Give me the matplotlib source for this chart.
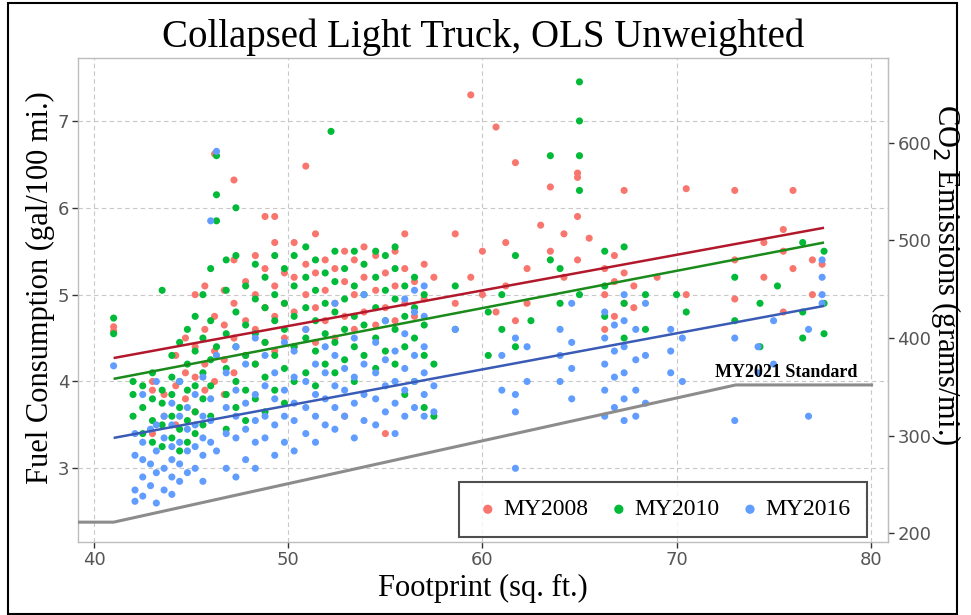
import matplotlib
matplotlib.use("Agg")
import matplotlib.pyplot as plt
from matplotlib.patches import Rectangle

# ---- data: footprint (sq. ft.) and fuel consumption (gal/100 mi.) ----
pts_2008 = [
    (41.0, 4.63), (41.0, 4.58),
    (43.0, 3.4), (43.0, 3.9), (43.0, 4.0), (43.6, 3.6), (43.6, 3.85),
    (44.2, 3.5), (44.2, 3.95), (44.2, 4.3), (44.7, 3.8), (44.7, 4.1), (44.7, 4.5),
    (45.2, 3.65), (45.2, 4.05), (45.2, 4.4), (45.2, 5.0), (45.7, 3.9), (45.7, 4.2),
    (45.7, 4.6), (45.7, 5.1), (46.2, 4.0), (46.2, 4.35), (46.2, 4.75), (46.2, 6.62),
    (46.7, 3.85), (46.7, 4.25), (46.7, 4.65), (46.7, 5.05), (47.2, 4.1), (47.2, 4.5),
    (47.2, 4.9), (47.2, 5.4), (47.2, 6.32), (47.8, 4.3), (47.8, 4.7), (47.8, 5.15),
    (48.3, 4.2), (48.3, 4.6), (48.3, 5.0), (48.3, 5.45), (48.8, 4.45), (48.8, 4.85),
    (48.8, 5.3), (48.8, 5.9), (49.3, 4.35), (49.3, 4.75), (49.3, 5.1), (49.3, 5.6),
    (49.3, 5.9), (49.8, 4.5), (49.8, 4.9), (49.8, 5.25), (50.3, 4.4), (50.3, 4.8),
    (50.3, 5.2), (50.3, 5.6), (50.9, 4.6), (50.9, 5.0), (50.9, 5.35), (50.9, 6.48),
    (51.4, 4.45), (51.4, 4.85), (51.4, 5.25), (51.4, 5.7), (51.9, 4.7), (51.9, 5.05),
    (51.9, 5.4), (52.4, 4.5), (52.4, 4.9), (52.4, 5.3), (52.9, 3.6), (52.9, 4.75),
    (52.9, 5.15), (52.9, 5.5), (53.4, 4.6), (53.4, 5.0), (53.4, 5.4), (53.9, 4.8),
    (53.9, 5.2), (53.9, 5.55), (54.5, 4.65), (54.5, 5.05), (54.5, 5.45), (55.0, 3.4),
    (55.0, 4.85), (55.0, 5.25), (55.5, 4.7), (55.5, 5.1), (55.5, 5.5), (56.0, 4.9),
    (56.0, 5.3), (56.0, 5.7), (56.5, 4.75), (56.5, 5.15), (57.0, 4.95), (57.0, 5.35),
    (57.5, 5.2), (58.6, 4.9), (58.6, 5.7), (59.4, 7.3), (59.4, 5.2), (60.0, 5.0),
    (60.0, 5.5), (60.7, 6.93), (60.7, 4.8), (61.2, 5.1), (61.2, 5.6), (61.7, 6.52),
    (61.7, 4.7), (62.3, 4.9), (62.3, 5.3), (63.0, 5.8), (63.5, 6.24), (63.5, 5.5),
    (64.2, 5.7), (64.2, 5.2), (64.9, 6.4), (64.9, 6.35), (64.9, 5.9), (64.9, 5.4),
    (65.5, 5.65), (66.3, 4.6), (66.3, 5.0), (66.3, 5.3), (66.8, 4.75), (66.8, 5.15),
    (66.8, 5.45), (67.3, 6.2), (67.3, 4.9), (67.3, 5.25), (67.8, 4.85), (67.8, 5.1),
    (69.0, 5.2), (70.5, 6.22), (70.5, 5.0), (73.0, 6.2), (73.0, 4.95), (73.0, 5.4),
    (74.5, 5.2), (74.5, 5.6), (75.5, 5.5), (75.5, 4.8), (75.5, 5.75), (76.0, 6.2),
    (76.0, 5.3), (77.0, 5.4), (77.0, 5.0), (77.5, 5.35),
]

pts_2010 = [
    (41.0, 4.73), (41.0, 4.55),
    (42.0, 3.6), (42.0, 3.85), (42.0, 4.0), (42.5, 3.4), (42.5, 3.7), (42.5, 3.95),
    (43.0, 3.3), (43.0, 3.55), (43.0, 3.8), (43.0, 4.1), (43.5, 3.25), (43.5, 3.5),
    (43.5, 3.75), (43.5, 3.9), (43.5, 5.05), (44.0, 3.35), (44.0, 3.6), (44.0, 3.85),
    (44.0, 4.05), (44.0, 4.3), (44.4, 3.2), (44.4, 3.45), (44.4, 3.7), (44.4, 4.0),
    (44.4, 4.45), (44.8, 3.3), (44.8, 3.55), (44.8, 3.9), (44.8, 4.2), (44.8, 4.6),
    (45.2, 3.4), (45.2, 3.65), (45.2, 3.95), (45.2, 4.35), (45.2, 4.75), (45.6, 3.5),
    (45.6, 3.8), (45.6, 4.1), (45.6, 4.5), (45.6, 5.0), (46.0, 3.6), (46.0, 3.95),
    (46.0, 4.25), (46.0, 4.7), (46.0, 5.3), (46.3, 6.6), (46.3, 6.15), (46.3, 5.85),
    (46.3, 4.4), (46.8, 3.45), (46.8, 3.85), (46.8, 4.15), (46.8, 4.55), (46.8, 5.05),
    (46.8, 5.4), (47.3, 3.7), (47.3, 4.0), (47.3, 4.4), (47.3, 4.8), (47.3, 5.45),
    (47.3, 6.0), (47.8, 3.55), (47.8, 3.9), (47.8, 4.3), (47.8, 4.65), (47.8, 5.1),
    (48.3, 3.8), (48.3, 4.2), (48.3, 4.55), (48.3, 4.95), (48.3, 5.35), (48.8, 3.65),
    (48.8, 4.05), (48.8, 4.45), (48.8, 4.85), (48.8, 5.2), (49.3, 3.9), (49.3, 4.3),
    (49.3, 4.7), (49.3, 5.0), (49.3, 5.45), (49.8, 3.75), (49.8, 4.15), (49.8, 4.6),
    (49.8, 4.9), (49.8, 5.3), (50.3, 4.0), (50.3, 4.4), (50.3, 4.75), (50.3, 5.1),
    (50.3, 5.45), (50.9, 4.1), (50.9, 4.5), (50.9, 4.85), (50.9, 5.2), (50.9, 5.55),
    (51.4, 3.95), (51.4, 4.35), (51.4, 4.7), (51.4, 5.05), (51.4, 5.4), (51.9, 4.2),
    (51.9, 4.55), (51.9, 4.9), (51.9, 5.25), (52.2, 6.88), (52.4, 4.1), (52.4, 4.45),
    (52.4, 4.8), (52.4, 5.15), (52.4, 5.5), (52.9, 4.25), (52.9, 4.6), (52.9, 4.95),
    (52.9, 5.3), (53.4, 4.0), (53.4, 4.4), (53.4, 4.75), (53.4, 5.1), (53.4, 5.5),
    (53.9, 4.3), (53.9, 4.65), (53.9, 5.0), (53.9, 5.35), (54.5, 4.15), (54.5, 4.5),
    (54.5, 4.85), (54.5, 5.2), (54.5, 5.5), (55.0, 4.35), (55.0, 4.7), (55.0, 5.05),
    (55.0, 5.45), (55.5, 4.2), (55.5, 4.6), (55.5, 4.95), (55.5, 5.3), (55.5, 5.55),
    (56.0, 3.85), (56.0, 4.4), (56.0, 4.75), (56.0, 5.1), (56.5, 4.0), (56.5, 4.5),
    (56.5, 4.85), (56.5, 5.2), (57.0, 3.7), (57.0, 4.3), (57.0, 4.65), (57.0, 5.0),
    (57.5, 3.6), (57.5, 4.2), (58.6, 4.6), (58.6, 5.1), (60.3, 4.3), (60.3, 4.8),
    (61.0, 4.6), (61.0, 5.0), (61.7, 5.45), (61.7, 4.4), (62.5, 4.7), (63.5, 5.4),
    (63.5, 6.6), (64.0, 4.9), (64.0, 5.3), (65.0, 7.45), (65.0, 7.0), (65.0, 6.6),
    (65.0, 6.2), (65.0, 5.0), (66.3, 4.75), (66.3, 5.1), (66.3, 5.5), (67.3, 4.5),
    (67.3, 4.9), (67.3, 5.55), (68.4, 4.6), (68.4, 5.0), (70.0, 5.0), (70.5, 4.8),
    (73.0, 4.7), (73.0, 5.2), (74.3, 4.4), (74.3, 4.9), (75.2, 5.1), (76.5, 4.5),
    (76.5, 4.8), (76.5, 5.6), (77.6, 4.55), (77.6, 4.9), (77.6, 5.5),
]

pts_2016 = [
    (41.0, 4.18),
    (42.1, 2.62), (42.1, 2.75), (42.1, 3.15), (42.1, 3.4), (42.5, 2.68), (42.5, 2.9),
    (42.5, 3.1), (42.5, 3.3), (42.5, 3.85), (42.9, 2.8), (42.9, 3.05), (42.9, 3.45),
    (43.2, 2.6), (43.2, 2.95), (43.2, 3.2), (43.2, 3.5), (43.2, 4.0), (43.6, 2.75),
    (43.6, 3.0), (43.6, 3.35), (43.6, 3.6), (44.0, 2.7), (44.0, 2.9), (44.0, 3.1),
    (44.0, 3.25), (44.0, 3.5), (44.0, 3.75), (44.4, 2.85), (44.4, 3.05), (44.4, 3.3),
    (44.4, 3.6), (44.4, 4.0), (44.8, 2.95), (44.8, 3.2), (44.8, 3.45), (44.8, 3.7),
    (45.2, 3.0), (45.2, 3.25), (45.2, 3.5), (45.2, 3.85), (45.6, 2.85), (45.6, 3.15),
    (45.6, 3.35), (45.6, 3.6), (45.6, 4.05), (46.0, 3.3), (46.0, 3.55), (46.0, 3.8),
    (46.0, 5.85), (46.3, 6.65), (46.3, 3.2), (46.3, 4.3), (46.8, 3.0), (46.8, 3.4),
    (46.8, 3.7), (46.8, 4.1), (47.3, 2.9), (47.3, 3.35), (47.3, 3.6), (47.3, 3.9),
    (47.3, 4.4), (47.8, 3.1), (47.8, 3.45), (47.8, 3.75), (47.8, 4.2), (48.3, 3.0),
    (48.3, 3.3), (48.3, 3.55), (48.3, 3.85), (48.3, 4.5), (48.8, 3.35), (48.8, 3.6),
    (48.8, 3.95), (48.8, 4.3), (49.3, 3.15), (49.3, 3.5), (49.3, 3.8), (49.3, 4.1),
    (49.8, 3.3), (49.8, 3.6), (49.8, 3.9), (49.8, 4.45), (50.3, 3.2), (50.3, 3.55),
    (50.3, 3.75), (50.3, 4.05), (50.3, 4.35), (50.9, 3.4), (50.9, 3.7), (50.9, 4.0),
    (50.9, 4.6), (51.4, 3.3), (51.4, 3.6), (51.4, 3.85), (51.4, 4.2), (51.9, 3.5),
    (51.9, 3.8), (51.9, 4.1), (51.9, 4.4), (52.4, 3.45), (52.4, 3.7), (52.4, 3.95),
    (52.4, 4.3), (52.4, 4.9), (52.9, 3.6), (52.9, 3.9), (52.9, 4.15), (53.4, 3.35),
    (53.4, 3.75), (53.4, 4.05), (53.4, 4.5), (53.9, 3.55), (53.9, 3.85), (53.9, 4.2),
    (53.9, 5.0), (54.5, 3.5), (54.5, 3.8), (54.5, 4.1), (54.5, 4.45), (55.0, 3.65),
    (55.0, 3.95), (55.0, 4.25), (55.0, 4.7), (55.5, 3.4), (55.5, 3.75), (55.5, 4.0),
    (55.5, 4.35), (56.0, 3.6), (56.0, 3.9), (56.0, 4.15), (56.0, 4.55), (56.0, 4.95),
    (56.5, 3.7), (56.5, 4.0), (56.5, 4.3), (56.5, 4.8), (56.5, 5.05), (57.0, 3.6),
    (57.0, 3.85), (57.0, 4.1), (57.0, 4.4), (57.0, 4.75), (57.0, 5.1), (57.5, 3.65),
    (57.5, 3.95), (58.6, 4.6), (61.0, 3.9), (61.0, 4.3), (61.7, 3.0), (61.7, 3.65),
    (61.7, 3.85), (61.7, 4.5), (62.3, 4.0), (62.3, 4.4), (64.0, 4.0), (64.0, 4.3),
    (64.0, 4.6), (64.6, 3.8), (64.6, 4.15), (64.6, 4.45), (64.6, 4.9), (66.3, 3.6),
    (66.3, 3.9), (66.3, 4.2), (66.3, 4.5), (66.3, 4.8), (66.8, 3.7), (66.8, 4.05),
    (66.8, 4.35), (66.8, 4.65), (67.3, 3.55), (67.3, 3.8), (67.3, 4.1), (67.3, 4.4),
    (67.3, 4.7), (67.3, 5.0), (67.9, 3.6), (67.9, 3.9), (67.9, 4.25), (67.9, 4.6),
    (68.4, 3.75), (68.4, 4.3), (68.4, 4.9), (69.7, 4.1), (69.7, 4.35), (69.7, 4.6),
    (70.3, 4.0), (70.3, 4.5), (73.0, 3.55), (73.0, 4.5), (74.2, 4.1), (74.2, 4.4),
    (75.0, 4.2), (75.0, 4.7), (76.8, 3.6), (76.8, 4.6), (77.5, 5.0), (77.5, 5.2),
    (77.5, 5.4), (77.5, 4.9),
]

series_names = ["MY2008", "MY2010", "MY2016"]
series_points = [pts_2008, pts_2010, pts_2016]
series_colors = ["#F8766D", "#00BA38", "#619CFF"]

# OLS fit lines (endpoints over the fitted footprint range)
fit_x = [41.0, 77.6]
fit_2008 = [4.27, 5.77]
fit_2010 = [4.03, 5.60]
fit_2016 = [3.35, 4.87]
fit_colors = ["#B2182B", "#1A8A1A", "#3A5BB5"]

# MY2021 target curve
std_x = [39.18, 41.0, 73.05, 80.05]
std_y = [2.38, 2.38, 3.96, 3.96]

CO2_PER_GAL = 88.87  # grams CO2 per (gal/100 mi.) -> grams/mi.

# ---- figure ----
W, H = 971, 615
fig = plt.figure(figsize=(W / 100, H / 100), dpi=100)
ax = fig.add_axes([78.3 / W, 1 - 542.3 / H, (888.3 - 78.3) / W, (542.3 - 58.0) / H])

serif = ["Liberation Serif", "DejaVu Serif"]
tick_font = "DejaVu Sans"

for name, pts, col in zip(series_names, series_points, series_colors):
    xs = [p[0] for p in pts]
    ys = [p[1] for p in pts]
    ax.scatter(xs, ys, s=26, color=col, edgecolors="none", label=name, zorder=3)

for fy, col in zip([fit_2008, fit_2010, fit_2016], fit_colors):
    ax.plot(fit_x, fy, color=col, lw=1.8, zorder=4, solid_capstyle="butt")

ax.plot(std_x, std_y, color="#8C8C8C", lw=2.2, zorder=4)
ax.text(79.3, 4.01, "MY2021 Standard", family=serif, fontweight="bold",
        fontsize=13, ha="right", va="bottom", zorder=5)

ax.set_xlim(39.18, 80.91)
ax.set_ylim(2.148, 7.725)
ax.set_xticks([40, 50, 60, 70, 80])
ax.set_yticks([3, 4, 5, 6, 7])

ax.grid(True, color="#C8C8C8", linestyle=(0, (4, 3)), lw=0.8)
ax.set_axisbelow(True)
for sp in ax.spines.values():
    sp.set_color("#BDBDBD")
    sp.set_linewidth(1.0)

ax.tick_params(axis="both", direction="out", length=4, width=1.0,
               color="#333333", labelcolor="#555555", labelsize=13, pad=2.5)
for lab in ax.get_xticklabels() + ax.get_yticklabels():
    lab.set_family(tick_font)

ax.set_xlabel("Footprint (sq. ft.)", family=serif, fontsize=22, labelpad=3)
ax.set_title("Collapsed Light Truck, OLS Unweighted", family=serif, fontsize=28, pad=8)

# left axis title
fig.text(40 / W, 1 - 288 / H, "Fuel Consumption (gal/100 mi.)", family=serif,
         fontsize=22, rotation=90, ha="center", va="center")

sec = ax.secondary_yaxis("right", functions=(lambda v: v * CO2_PER_GAL,
                                             lambda v: v / CO2_PER_GAL))
sec.set_yticks([200, 300, 400, 500, 600])
sec.tick_params(direction="out", length=4, width=1.0, color="#333333",
                labelcolor="#555555", labelsize=13, pad=2.5)
for lab in sec.get_yticklabels():
    lab.set_family(tick_font)
sec.spines["right"].set_color("#BDBDBD")

# right axis title
fig.text(946 / W, 1 - 275 / H, "CO$_2$ Emissions (grams/mi.)", family=serif,
         fontsize=22, rotation=270, ha="center", va="center")

leg = ax.legend(loc="lower right", ncol=3, frameon=True, fancybox=False,
                prop={"family": serif, "size": 17}, markerscale=1.3,
                handletextpad=0.15, handlelength=1.0, columnspacing=0.8,
                borderpad=0.7, borderaxespad=0.0,
                bbox_to_anchor=((867 - 78.3) / 810, 0.011))
leg.get_frame().set_edgecolor("#222222")
leg.get_frame().set_linewidth(1.5)

# outer frame
fig.patches.append(Rectangle((8 / W, 0.002), (957 - 8) / W, 0.993,
                             transform=fig.transFigure, fill=False,
                             edgecolor="black", lw=1.5))

fig.savefig("out.png", dpi=100)
